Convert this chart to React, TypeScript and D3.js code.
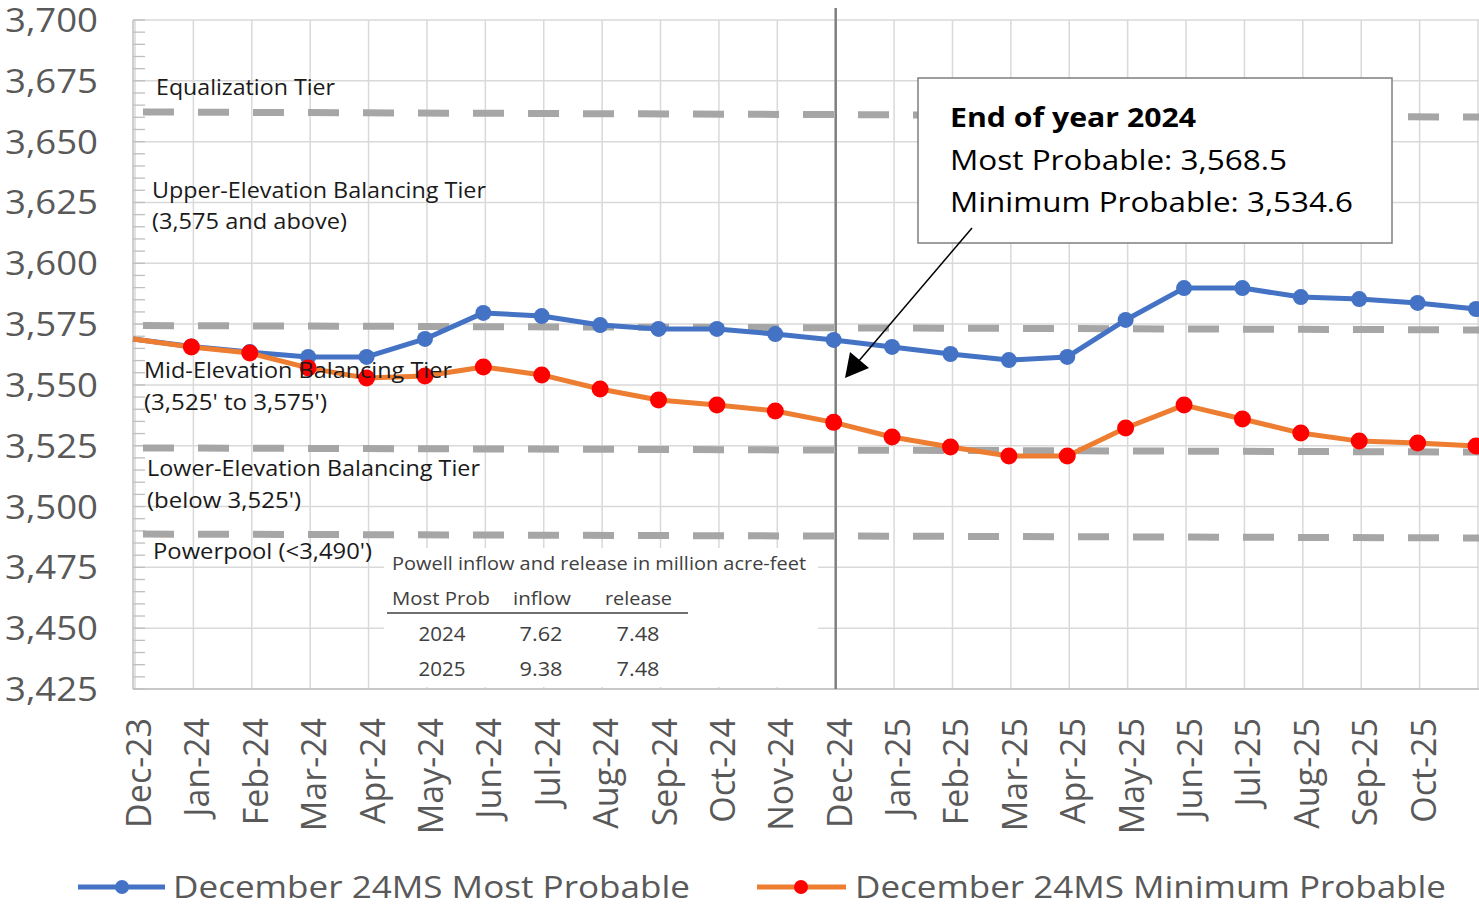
import React from "react";
import * as d3 from "d3";

const categories = ["Dec-23","Jan-24","Feb-24","Mar-24","Apr-24","May-24","Jun-24","Jul-24","Aug-24","Sep-24","Oct-24","Nov-24","Dec-24","Jan-25","Feb-25","Mar-25","Apr-25","May-25","Jun-25","Jul-25","Aug-25","Sep-25","Oct-25","Nov-25"];
const labelCategories = categories.slice(0, 23);
const mostProbable = [3568.9,3565.8,3563.5,3561.5,3561.5,3568.9,3579.6,3578.3,3574.6,3573.0,3573.0,3570.9,3568.5,3565.6,3562.7,3560.2,3561.5,3576.7,3589.8,3589.8,3586.1,3585.3,3583.7,3581.2];
const minProbable = [3568.9,3565.6,3563.1,3557.0,3552.8,3553.7,3557.4,3554.1,3548.3,3543.8,3541.7,3539.3,3534.6,3528.6,3524.5,3520.8,3520.8,3532.3,3541.7,3536.0,3530.2,3526.9,3526.1,3524.9];
const yTicks = [3425,3450,3475,3500,3525,3550,3575,3600,3625,3650,3675,3700];
const tierNames = ["Equalization","Upper","Lower","Powerpool"];
const tierStart = [3662.2, 3574.4, 3524.1, 3488.7];
const tierEnd = [3660.1, 3572.6, 3522.4, 3487.1];
const tableTitle = "Powell inflow and release in million acre-feet";
const tableHeader = ["Most Prob", "inflow", "release"];
const tableYears = ["2024", "2025"];
const tableInflow = ["7.62", "9.38"];
const tableRelease = ["7.48", "7.48"];
const seriesNames = ["December 24MS Most Probable", "December 24MS Minimum Probable"];

const FONT = "'Open Sans', 'Noto Sans', sans-serif";

function T(props: any) {
  const { x, y, size, len, anchor, weight, fill, children, transform, baseline } = props;
  return (
    <text x={x} y={y} fontSize={size} fontFamily={FONT} textAnchor={anchor || "start"}
      fontWeight={weight || "normal"} fill={fill || "#000"} transform={transform}
      dominantBaseline={baseline}
      textLength={len} lengthAdjust={len ? "spacingAndGlyphs" : undefined}>{children}</text>
  );
}

export default function App() {
  const W = 1479, H = 906;
  const left = 133, top = 20, bottom = 689, right = 1479;
  const x = d3.scalePoint<string>().domain(categories).range([left, 1476]);
  const y = d3.scaleLinear().domain([3425, 3700]).range([bottom, top]);
  const minorTicks = d3.range(3425, 3700.1, 5);
  const line = d3.line<number>().x((_, i) => x(categories[i])!).y((v) => y(v));
  const dec24 = x("Dec-24")! + 2;
  const blue = "#4472c4", orange = "#ed7d31", red = "#ff0000";

  const tierLabels = [
    { t: "Equalization Tier", x: 156, y: 95, len: 179 },
    { t: "Upper-Elevation Balancing Tier", x: 152, y: 198, len: 334 },
    { t: "(3,575 and above)", x: 152, y: 229, len: 195 },
    { t: "Mid-Elevation Balancing Tier", x: 144, y: 378, len: 308 },
    { t: "(3,525' to 3,575')", x: 144, y: 410, len: 183 },
    { t: "Lower-Elevation Balancing Tier", x: 147, y: 476, len: 333 },
    { t: "(below 3,525')", x: 147, y: 508, len: 154 },
    { t: "Powerpool (<3,490')", x: 153, y: 559, len: 219 },
  ];

  return (
    <svg width={W} height={H} style={{ position: "absolute", left: 0, top: 0, background: "#fff" }}>
      <rect x={0} y={0} width={W} height={H} fill="#fff" />
      {yTicks.map((t) => (
        <line key={"h" + t} x1={left} x2={right} y1={y(t)} y2={y(t)} stroke="#d9d9d9" strokeWidth={1.5} />
      ))}
      {categories.map((c) => (
        <line key={"v" + c} x1={x(c)! + 2} x2={x(c)! + 2} y1={top} y2={bottom} stroke="#d9d9d9" strokeWidth={1.5} />
      ))}
      {minorTicks.map((t) => (
        <line key={"m" + t} x1={left} x2={left + 12} y1={y(t)} y2={y(t)} stroke="#bfbfbf" strokeWidth={1.3} />
      ))}
      <line x1={left} x2={left} y1={top} y2={bottom} stroke="#bfbfbf" strokeWidth={1.5} />
      <line x1={left} x2={right} y1={bottom} y2={bottom} stroke="#bfbfbf" strokeWidth={1.5} />
      <rect x={384} y={548} width={434} height={139} fill="#fff" />
      {tierNames.map((n, i) => (
        <line key={n} x1={143} x2={right} y1={y(tierStart[i])} y2={y(tierEnd[i])}
          stroke="#a6a6a6" strokeWidth={7} strokeDasharray="31 24" />
      ))}
      <line x1={dec24} x2={dec24} y1={8} y2={bottom} stroke="#7f7f7f" strokeWidth={2.5} />
      <path d={line(mostProbable) || ""} fill="none" stroke={blue} strokeWidth={5} strokeLinejoin="round" />
      {mostProbable.map((v, i) => i === 0 ? null : (
        <circle key={"b" + i} cx={x(categories[i])!} cy={y(v)} r={8} fill={blue} />
      ))}
      <path d={line(minProbable) || ""} fill="none" stroke={orange} strokeWidth={5} strokeLinejoin="round" />
      {minProbable.map((v, i) => i === 0 ? null : (
        <circle key={"r" + i} cx={x(categories[i])!} cy={y(v)} r={8.5} fill={red} />
      ))}
      {tierLabels.map((l) => (
        <T key={l.t} x={l.x} y={l.y} size={21} len={l.len} fill="#1a1a1a">{l.t}</T>
      ))}
      <T x={392} y={570} size={18} len={414} fill="#404040">{tableTitle}</T>
      <T x={392} y={605} size={18} len={98} fill="#404040">{tableHeader[0]}</T>
      <T x={513} y={605} size={18} len={58} fill="#404040">{tableHeader[1]}</T>
      <T x={605} y={605} size={18} len={67} fill="#404040">{tableHeader[2]}</T>
      <line x1={387} x2={688} y1={613} y2={613} stroke="#404040" strokeWidth={1.5} />
      {tableYears.map((yr, i) => (
        <g key={yr}>
          <T x={442} y={641 + i * 35} size={20} len={47} anchor="middle" fill="#404040">{yr}</T>
          <T x={541} y={641 + i * 35} size={20} len={43} anchor="middle" fill="#404040">{tableInflow[i]}</T>
          <T x={638} y={641 + i * 35} size={20} len={43} anchor="middle" fill="#404040">{tableRelease[i]}</T>
        </g>
      ))}
      <rect x={918} y={78} width={474} height={165} fill="#fff" stroke="#7f7f7f" strokeWidth={1.5} />
      <T x={950} y={127} size={26} weight="bold" len={246} fill="#000">End of year 2024</T>
      <T x={950} y={170} size={27} len={337} fill="#000">Most Probable: 3,568.5</T>
      <T x={950} y={212} size={27} len={403} fill="#000">Minimum Probable: 3,534.6</T>
      <line x1={972} y1={228} x2={852} y2={369} stroke="#000" strokeWidth={1.5} />
      <path d="M845,378 L850,352 L869,368 Z" fill="#000" />
      {yTicks.map((t) => (
        <T key={"yl" + t} x={98} y={y(t) + 12} size={33} anchor="end" len={93} fill="#595959">{d3.format(",")(t)}</T>
      ))}
      {labelCategories.map((c) => {
        const px = x(c)! + 18, py = 718;
        return (
          <T key={"xl" + c} x={px} y={py} size={34} anchor="end" fill="#595959"
            transform={`rotate(-90 ${px} ${py})`}>{c}</T>
        );
      })}
      <line x1={78} x2={165} y1={887} y2={887} stroke={blue} strokeWidth={5} />
      <circle cx={122} cy={887} r={7} fill={blue} />
      <T x={173} y={898} size={31} len={517} fill="#595959">{seriesNames[0]}</T>
      <line x1={757} x2={846} y1={887} y2={887} stroke={orange} strokeWidth={5} />
      <circle cx={801} cy={887} r={7} fill={red} />
      <T x={855} y={898} size={31} len={591} fill="#595959">{seriesNames[1]}</T>
    </svg>
  );
}
